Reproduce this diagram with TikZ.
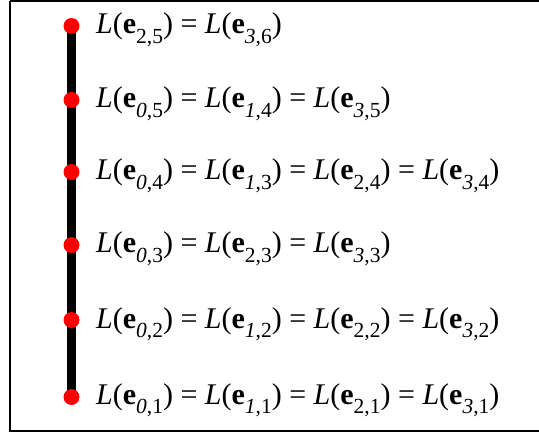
\documentclass[tikz,border=0pt]{standalone}
\usepackage{fontspec}
\setmainfont{Liberation Serif}
\newcommand{\myE}[2]{\textit{L}(\textbf{e}\raisebox{-0.32em}{\fontsize{21.5}{22}\selectfont #1,#2})}
\newcommand{\myEq}{\ =\ }
\begin{document}
\begin{tikzpicture}[x=1pt,y=-1pt,
  dot/.style={circle,fill=red,inner sep=0pt,minimum size=16pt},
  lbl/.style={anchor=base west,inner sep=0pt,font=\fontsize{30}{32}\selectfont}]
\useasboundingbox (0,0) rectangle (539,433);
\draw[line width=2pt] (10,1.5) -- (545,1.5) (10,1.5) -- (10,431) -- (545,431);
\coordinate (top) at (71.5,26);
\coordinate (bot) at (71.5,397);
\draw[line width=9pt] (top) -- (bot);
\node[dot] (d6) at (71.5,26) {};
\node[dot] (d5) at (71.5,100) {};
\node[dot] (d4) at (71.5,172) {};
\node[dot] (d3) at (71.5,245) {};
\node[dot] (d2) at (71.5,320) {};
\node[dot] (d1) at (71.5,397) {};
\node[lbl] (t6) at (96,34) {\myE{2}{5}\myEq\myE{\textit{3}}{6}};
\node[lbl] (t5) at (96,108) {\myE{\textit{0}}{5}\myEq\myE{\textit{1}}{4}\myEq\myE{\textit{3}}{5}};
\node[lbl] (t4) at (96,180) {\myE{\textit{0}}{4}\myEq\myE{\textit{1}}{3}\myEq\myE{2}{4}\myEq\myE{\textit{3}}{4}};
\node[lbl] (t3) at (96,253) {\myE{\textit{0}}{3}\myEq\myE{2}{3}\myEq\myE{\textit{3}}{3}};
\node[lbl] (t2) at (96,328) {\myE{\textit{0}}{2}\myEq\myE{\textit{1}}{2}\myEq\myE{2}{2}\myEq\myE{\textit{3}}{2}};
\node[lbl] (t1) at (96,404) {\myE{\textit{0}}{1}\myEq\myE{\textit{1}}{1}\myEq\myE{2}{1}\myEq\myE{\textit{3}}{1}};
\end{tikzpicture}
\end{document}
